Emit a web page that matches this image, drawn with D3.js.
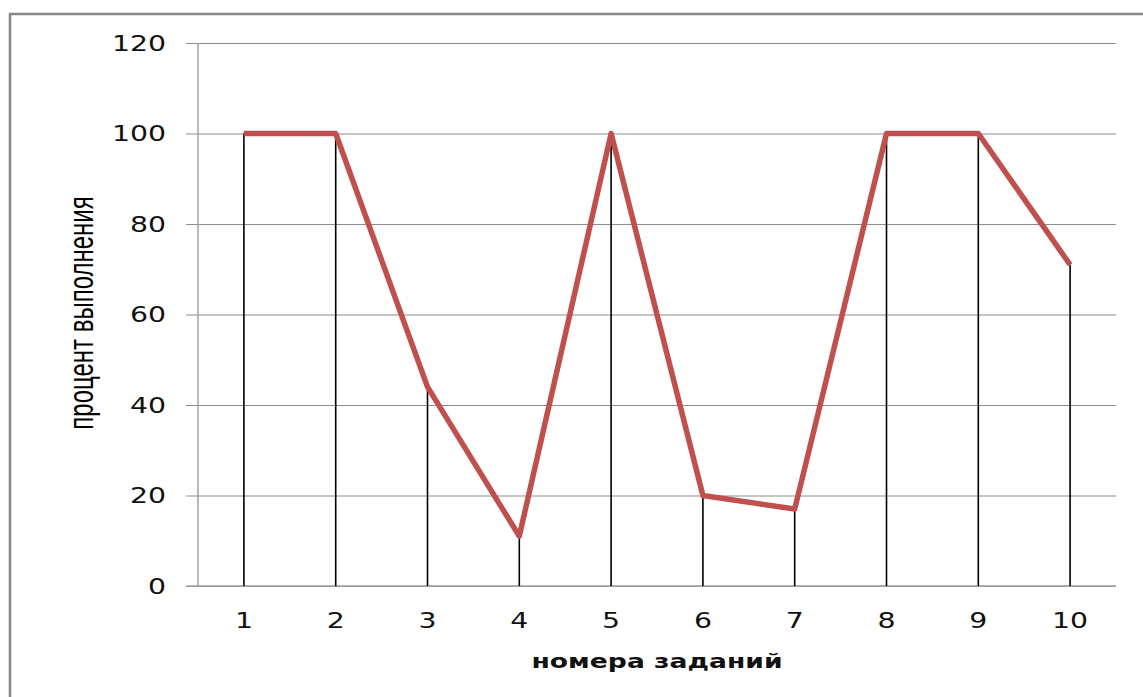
<!DOCTYPE html>
<html><head><meta charset="utf-8">
<script src="https://cdn.jsdelivr.net/npm/d3@7"></script>
<style>body{margin:0;background:#fff}svg{display:block}</style>
</head><body>
<script>
const categories = ["1","2","3","4","5","6","7","8","9","10"];
const values = [100, 100, 44, 11, 100, 20, 17, 100, 100, 71];
const yTicks = [0, 20, 40, 60, 80, 100, 120];
const xTitle = "номера заданий";
const yTitle = "процент выполнения";

const W = 1143, H = 697, SX = 1.35;
const svg = d3.select("body").append("svg").attr("width", W).attr("height", H);

svg.append("rect").attr("x", 10).attr("y", 14).attr("width", W + 20).attr("height", H + 20)
  .attr("fill", "#fff").attr("stroke", "#878787").attr("stroke-width", 2.5);

const L = 198, R = 1116, T = 43, B = 586;
const x = d3.scaleBand().domain(categories).range([L, R]);
const y = d3.scaleLinear().domain([0, 120]).range([B, T]);

// gridlines
const gy = svg.append("g").attr("transform", `translate(${L},0)`)
  .call(d3.axisLeft(y).tickValues(yTicks).tickSize(-(R - L)).tickFormat(""));
gy.select(".domain").remove();
gy.selectAll(".tick line").attr("stroke", "#8c8c8c").attr("stroke-width", 1.2).attr("x1", -12);

// y axis line
svg.append("line").attr("x1", L).attr("x2", L).attr("y1", T).attr("y2", B)
  .attr("stroke", "#a0a0a0").attr("stroke-width", 1.5);
// x axis line
svg.append("line").attr("x1", L - 12).attr("x2", R).attr("y1", B).attr("y2", B)
  .attr("stroke", "#a0a0a0").attr("stroke-width", 1.5);

// y tick labels
svg.append("g").selectAll("text").data(yTicks).join("text")
  .attr("transform", d => `translate(166,${y(d)}) scale(${SX},1)`)
  .attr("text-anchor", "end").attr("dy", "0.36em")
  .attr("font-family", "DejaVu Sans").attr("font-size", 21).attr("fill", "#111")
  .text(d => d);

// x tick labels
svg.append("g").selectAll("text").data(categories).join("text")
  .attr("transform", d => `translate(${x(d) + x.bandwidth() / 2},628) scale(${SX},1)`)
  .attr("text-anchor", "middle")
  .attr("font-family", "DejaVu Sans").attr("font-size", 21).attr("fill", "#111")
  .text(d => d);

// drop lines
const cx = d => x(d) + x.bandwidth() / 2;
svg.append("g").selectAll("line").data(categories).join("line")
  .attr("x1", d => cx(d)).attr("x2", d => cx(d))
  .attr("y1", (d, i) => y(values[i])).attr("y2", y(0))
  .attr("stroke", "#000").attr("stroke-width", 1.6);

// series line
const line = d3.line().x((d, i) => cx(categories[i])).y(d => y(d));
svg.append("path").datum(values).attr("d", line)
  .attr("fill", "none").attr("stroke", "#C0504D").attr("stroke-width", 5.5)
  .attr("stroke-linejoin", "round");

// axis titles
svg.append("text")
  .attr("transform", `translate(657,668) scale(1.4,1)`)
  .attr("text-anchor", "middle").attr("font-family", "DejaVu Sans").attr("font-weight", "bold")
  .attr("font-size", 19).attr("fill", "#111").text(xTitle);

svg.append("text")
  .attr("transform", `translate(93,313) scale(1.45,1) rotate(-90)`)
  .attr("text-anchor", "middle").attr("font-family", "Liberation Sans Narrow, Liberation Sans")
  .attr("font-size", 24).attr("fill", "#000").text(yTitle);
</script>
</body></html>
